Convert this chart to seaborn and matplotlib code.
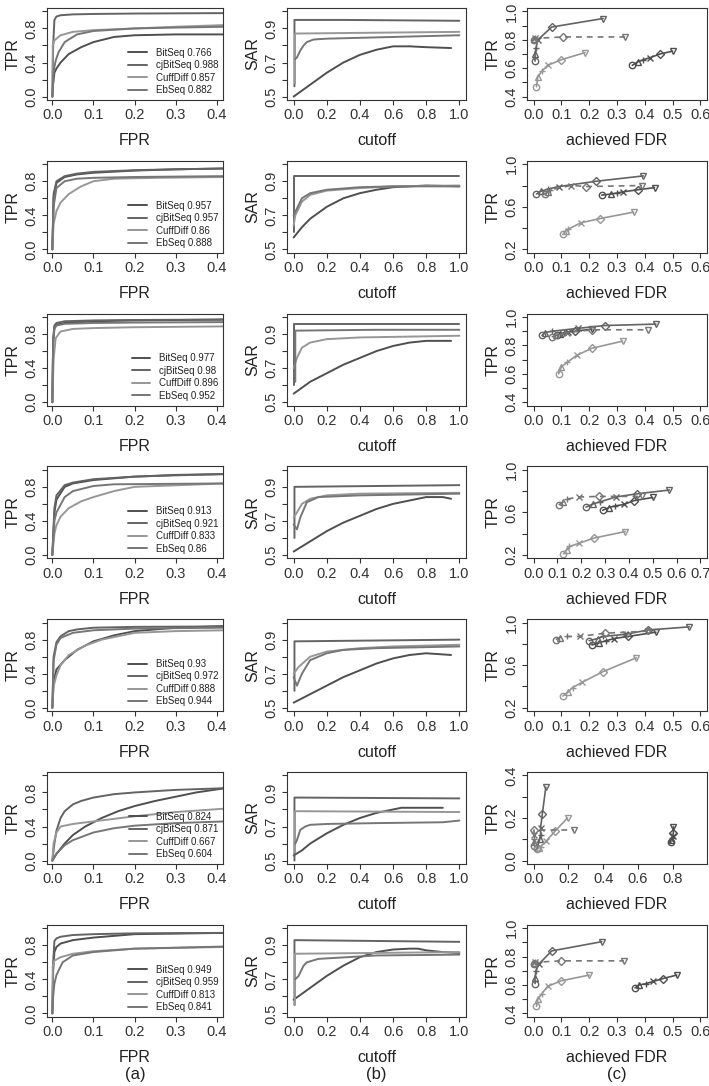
import matplotlib
matplotlib.use('Agg')
import matplotlib.pyplot as plt
import seaborn as sns
import pandas as pd
import numpy as np

# ---------------- data ----------------
methods = ['BitSeq', 'cjBitSeq', 'CuffDiff', 'EbSeq']
colors = {'BitSeq': '#4f4f4f', 'cjBitSeq': '#636363', 'CuffDiff': '#979797', 'EbSeq': '#767676'}

auc = [[0.766, 0.988, 0.857, 0.882],
       [0.957, 0.957, 0.86, 0.888],
       [0.977, 0.98, 0.896, 0.952],
       [0.913, 0.921, 0.833, 0.86],
       [0.93, 0.972, 0.888, 0.944],
       [0.824, 0.871, 0.667, 0.604],
       [0.949, 0.959, 0.813, 0.841]]

# ROC curves (FPR, TPR), column (a)
roc1 = {'BitSeq': ([0, .002, .005, .01, .02, .04, .07, .1, .15, .2, .3, .42], [0, .15, .28, .33, .40, .50, .58, .64, .70, .72, .73, .73]),
        'cjBitSeq': ([0, .002, .005, .01, .02, .05, .1, .2, .42], [0, .6, .9, .94, .955, .965, .97, .975, .98]),
        'CuffDiff': ([0, .001, .005, .02, .05, .1, .2, .3, .42], [0, .6, .66, .72, .76, .78, .80, .82, .84]),
        'EbSeq': ([0, .003, .008, .015, .03, .06, .1, .2, .3, .42], [0, .3, .42, .52, .64, .73, .77, .80, .81, .82])}
roc2 = {'BitSeq': ([0, .003, .01, .03, .06, .1, .2, .3, .42], [0, .6, .78, .85, .88, .9, .925, .94, .95]),
        'cjBitSeq': ([0, .003, .01, .03, .06, .1, .2, .3, .42], [0, .65, .8, .86, .89, .91, .93, .94, .95]),
        'CuffDiff': ([0, .003, .01, .02, .04, .07, .1, .15, .25, .42], [0, .3, .45, .55, .65, .74, .8, .83, .84, .85]),
        'EbSeq': ([0, .003, .01, .03, .06, .1, .2, .42], [0, .5, .72, .8, .83, .84, .85, .86])}
roc3 = {'BitSeq': ([0, .002, .005, .01, .03, .1, .2, .42], [0, .7, .88, .91, .93, .95, .96, .97]),
        'cjBitSeq': ([0, .002, .005, .01, .03, .1, .2, .42], [0, .75, .9, .93, .95, .96, .965, .97]),
        'CuffDiff': ([0, .003, .008, .02, .05, .1, .2, .42], [0, .5, .75, .83, .86, .87, .88, .89]),
        'EbSeq': ([0, .002, .005, .01, .03, .1, .2, .42], [0, .7, .86, .9, .92, .93, .935, .94])}
roc4 = {'BitSeq': ([0, .005, .01, .03, .05, .1, .2, .3, .42], [0, .5, .65, .8, .84, .88, .92, .94, .95]),
        'cjBitSeq': ([0, .005, .01, .03, .05, .1, .2, .3, .42], [0, .55, .7, .82, .85, .89, .92, .935, .95]),
        'CuffDiff': ([0, .005, .01, .02, .04, .07, .1, .15, .2, .42], [0, .25, .35, .45, .55, .63, .68, .75, .8, .84]),
        'EbSeq': ([0, .005, .01, .03, .05, .1, .15, .42], [0, .4, .5, .68, .75, .81, .83, .84])}
roc5 = {'BitSeq': ([0, .003, .01, .03, .06, .1, .15, .2, .3, .42], [0, .3, .45, .56, .68, .78, .85, .9, .94, .96]),
        'cjBitSeq': ([0, .003, .01, .02, .04, .06, .1, .2, .42], [0, .6, .77, .84, .9, .92, .94, .95, .955]),
        'CuffDiff': ([0, .003, .01, .02, .04, .08, .12, .2, .3, .42], [0, .25, .38, .5, .62, .73, .8, .88, .9, .91]),
        'EbSeq': ([0, .003, .01, .02, .05, .1, .2, .42], [0, .55, .74, .82, .88, .91, .93, .94])}
roc6 = {'BitSeq': ([0, .01, .03, .05, .08, .12, .16, .2, .25, .3, .35, .42], [0, .08, .2, .3, .4, .5, .58, .64, .7, .75, .8, .85]),
        'cjBitSeq': ([0, .005, .01, .02, .03, .05, .07, .1, .15, .2, .3, .42], [0, .2, .35, .5, .58, .66, .7, .74, .78, .8, .83, .85]),
        'CuffDiff': ([0, .003, .01, .02, .05, .1, .2, .3, .42], [0, .2, .33, .4, .43, .46, .52, .57, .61]),
        'EbSeq': ([0, .01, .03, .05, .1, .15, .2, .3, .42], [0, .08, .18, .24, .33, .38, .41, .44, .46])}
roc7 = {'BitSeq': ([0, .002, .005, .01, .02, .05, .1, .2, .42], [0, .5, .72, .78, .82, .86, .89, .93, .945]),
        'cjBitSeq': ([0, .002, .005, .01, .02, .05, .1, .2, .42], [0, .6, .85, .88, .9, .92, .93, .94, .945]),
        'CuffDiff': ([0, .001, .005, .02, .05, .1, .2, .42], [0, .55, .62, .66, .7, .73, .76, .78]),
        'EbSeq': ([0, .002, .005, .01, .025, .05, .1, .2, .42], [0, .2, .35, .45, .6, .68, .72, .76, .785])}

# SAR against cutoff, column (b)
sar1 = {'BitSeq': ([0, .1, .2, .3, .4, .5, .6, .7, .8, .95], [.5, .57, .64, .70, .745, .775, .795, .795, .79, .785]),
        'cjBitSeq': ([.005, .005, .3, 1.0], [.56, .95, .95, .945]),
        'CuffDiff': ([.008, .008, .5, 1.0], [.58, .87, .875, .88]),
        'EbSeq': ([.01, .02, .04, .06, .08, .12, .2, .4, .6, 1.0], [.72, .73, .77, .80, .82, .835, .84, .845, .85, .86])}
sar2 = {'BitSeq': ([0, .05, .1, .2, .3, .4, .5, .6, .8, 1.0], [.57, .63, .68, .75, .8, .83, .85, .865, .875, .87]),
        'cjBitSeq': ([.005, .005, 1.0], [.6, .93, .93]),
        'CuffDiff': ([0, .01, .05, .1, .2, .4, .6, 1.0], [.64, .7, .78, .82, .845, .86, .87, .875]),
        'EbSeq': ([0, .02, .05, .1, .2, .4, .6, 1.0], [.7, .74, .8, .83, .85, .865, .87, .87])}
sar3 = {'BitSeq': ([0, .1, .2, .3, .4, .5, .6, .7, .8, .95], [.55, .62, .67, .72, .76, .8, .83, .85, .86, .86]),
        'cjBitSeq': ([.005, .005, 1.0], [.6, .96, .96]),
        'CuffDiff': ([0, .02, .05, .1, .2, .4, 1.0], [.7, .76, .82, .85, .87, .88, .89]),
        'EbSeq': ([.01, .01, .5, 1.0], [.62, .92, .925, .925])}
sar4 = {'BitSeq': ([0, .1, .2, .3, .4, .5, .6, .7, .8, .9, .95], [.52, .58, .64, .69, .73, .77, .8, .82, .84, .84, .83]),
        'cjBitSeq': ([.005, .005, 1.0], [.6, .9, .91]),
        'CuffDiff': ([0, .02, .05, .1, .2, .4, 1.0], [.72, .75, .8, .83, .85, .86, .865]),
        'EbSeq': ([0, .02, .04, .08, .15, .4, 1.0], [.68, .65, .72, .81, .84, .85, .86])}
sar5 = {'BitSeq': ([0, .1, .2, .3, .4, .5, .6, .7, .8, .95], [.53, .58, .63, .68, .72, .76, .79, .81, .82, .81]),
        'cjBitSeq': ([.005, .005, 1.0], [.6, .89, .9]),
        'CuffDiff': ([0, .03, .1, .2, .4, .6, 1.0], [.7, .74, .8, .83, .85, .86, .87]),
        'EbSeq': ([0, .02, .05, .1, .2, .3, .5, 1.0], [.68, .63, .7, .78, .82, .84, .85, .86])}
sar6 = {'BitSeq': ([0, .05, .1, .2, .3, .4, .5, .6, .65, .8, .9], [.53, .56, .6, .66, .71, .75, .78, .8, .81, .81, .81]),
        'cjBitSeq': ([.005, .005, 1.0], [.5, .87, .865]),
        'CuffDiff': ([.008, .008, 1.0], [.55, .79, .785]),
        'EbSeq': ([.01, .02, .04, .07, .1, .2, .5, .9, 1.0], [.6, .62, .68, .7, .71, .715, .72, .725, .735])}
sar7 = {'BitSeq': ([0, .1, .2, .3, .4, .5, .6, .7, .75, .8, .9, 1.0], [.58, .65, .72, .78, .83, .86, .875, .88, .88, .87, .86, .855]),
        'cjBitSeq': ([.005, .005, 1.0], [.55, .93, .92]),
        'CuffDiff': ([.008, .008, 1.0], [.55, .85, .86]),
        'EbSeq': ([.01, .03, .06, .08, .15, .5, 1.0], [.7, .72, .78, .8, .82, .84, .845])}

# TPR against achieved FDR at six thresholds, column (c)
fdr1 = {'BitSeq': ([.355, .375, .395, .42, .455, .5], [.62, .645, .66, .675, .70, .72]),
        'cjBitSeq': ([.005, .005, .008, .015, .065, .25], [.65, .70, .74, .80, .89, .95]),
        'CuffDiff': ([.01, .015, .03, .05, .1, .185], [.47, .54, .58, .62, .66, .71]),
        'EbSeq': ([0, 0, .003, .005, .105, .33], [.80, .805, .81, .81, .82, .82])}
fdr2 = {'BitSeq': ([.245, .28, .3, .32, .375, .435], [.71, .72, .73, .74, .76, .78]),
        'cjBitSeq': ([.01, .025, .05, .09, .225, .395], [.72, .745, .765, .79, .84, .89]),
        'CuffDiff': ([.105, .115, .125, .17, .24, .36], [.34, .37, .39, .45, .49, .55]),
        'EbSeq': ([.04, .05, .06, .135, .19, .39], [.72, .74, .76, .80, .79, .80])}
fdr3 = {'BitSeq': ([.085, .095, .11, .125, .15, .21], [.87, .88, .89, .895, .90, .915]),
        'cjBitSeq': ([.03, .04, .065, .16, .255, .44], [.87, .89, .90, .92, .94, .95]),
        'CuffDiff': ([.09, .1, .12, .155, .21, .32], [.60, .65, .68, .73, .78, .83]),
        'EbSeq': ([.065, .08, .1, .12, .21, .41], [.86, .87, .88, .89, .91, .91])}
fdr4 = {'BitSeq': ([.29, .315, .34, .38, .42, .5], [.62, .645, .66, .675, .71, .74]),
        'cjBitSeq': ([.22, .25, .28, .345, .435, .57], [.65, .68, .70, .745, .775, .81]),
        'CuffDiff': ([.125, .14, .15, .19, .255, .385], [.21, .25, .28, .31, .36, .42]),
        'EbSeq': ([.105, .125, .14, .19, .275, .455], [.67, .70, .725, .745, .75, .75])}
fdr5 = {'BitSeq': ([.21, .235, .26, .29, .34, .44], [.79, .81, .83, .85, .87, .91]),
        'cjBitSeq': ([.2, .23, .25, .33, .41, .56], [.83, .85, .87, .89, .93, .96]),
        'CuffDiff': ([.105, .125, .14, .175, .25, .37], [.31, .35, .39, .44, .54, .67]),
        'EbSeq': ([.08, .095, .12, .165, .255, .41], [.84, .86, .87, .87, .90, .92])}
fdr6 = {'BitSeq': ([.79, .79, .795, .8, .805, .805], [.085, .095, .105, .115, .13, .16]),
        'cjBitSeq': ([.02, .035, .04, .04, .05, .07], [.06, .10, .12, .155, .22, .345]),
        'CuffDiff': ([.02, .03, .04, .07, .125, .195], [.055, .06, .065, .09, .14, .20]),
        'EbSeq': ([0, 0, 0, 0, 0, .235], [.07, .085, .10, .12, .145, .145])}
fdr7 = {'BitSeq': ([.365, .38, .405, .43, .465, .515], [.58, .60, .61, .625, .645, .67]),
        'cjBitSeq': ([.005, .005, .008, .02, .065, .245], [.61, .65, .70, .75, .84, .905]),
        'CuffDiff': ([.01, .015, .03, .05, .1, .2], [.45, .50, .54, .59, .63, .67]),
        'EbSeq': ([0, 0, .003, .005, .1, .325], [.75, .755, .76, .76, .77, .77])}

roc_rows = [roc1, roc2, roc3, roc4, roc5, roc6, roc7]
sar_rows = [sar1, sar2, sar3, sar4, sar5, sar6, sar7]
fdr_rows = [fdr1, fdr2, fdr3, fdr4, fdr5, fdr6, fdr7]

threshold_markers = ['o', '^', '+', 'x', 'D', 'v']

# axis setup of column (c) per row
fdr_xmax = [0.6, 0.6, 0.6, 0.7, 0.6, 0.96, 0.6]
fdr_xticks_max = [0.6, 0.6, 0.6, 0.7, 0.6, 0.8, 0.6]
fdr_xstep = [0.1, 0.1, 0.1, 0.1, 0.1, 0.2, 0.1]
fdr_ylo = [0.4, 0.2, 0.4, 0.2, 0.2, 0.0, 0.4]
fdr_yhi = [1.0, 1.0, 1.0, 1.0, 1.0, 0.4, 1.0]
fdr_ystep = [0.1, 0.2, 0.1, 0.2, 0.2, 0.1, 0.1]

# ---------------- style ----------------
sns.set_style('ticks')
plt.rcParams['font.family'] = ['Liberation Sans', 'DejaVu Sans']
plt.rcParams['axes.linewidth'] = 0.8
plt.rcParams['axes.edgecolor'] = '#333333'
plt.rcParams['xtick.color'] = '#333333'
plt.rcParams['ytick.color'] = '#333333'
plt.rcParams['text.color'] = '#222222'
plt.rcParams['axes.labelcolor'] = '#222222'

W, H = 709, 1086
fig = plt.figure(figsize=(W / 100, H / 100), dpi=100)

col_x = [(47, 223), (287, 466), (527, 707)]
row_top = [8 + i * 152.8 for i in range(7)]
box_h = 92


def add_ax(c, r):
    x0, x1 = col_x[c]
    top = row_top[r]
    return fig.add_axes([x0 / W, 1 - (top + box_h) / H, (x1 - x0) / W, box_h / H])


def r_lim(lo, hi):
    # R style 4% padding
    d = (hi - lo) * 0.04
    return lo - d, hi + d


def style_axis(ax, xticks, yticks, xlabel, ylabel):
    ax.set_xticks(xticks)
    ax.set_xticklabels([f'{v:.1f}' for v in xticks], fontsize=10.5)
    ax.set_yticks(yticks)
    # R drops every other label when they would overlap
    labs = [f'{v:.1f}' if i % 2 == 0 else '' for i, v in enumerate(yticks)]
    ax.set_yticklabels(labs, fontsize=10.5, rotation=90, va='center')
    ax.tick_params(length=3.5, width=0.8, pad=2.5)
    ax.set_xlabel(xlabel, fontsize=11.5, labelpad=8)
    ax.set_ylabel(ylabel, fontsize=11.5, labelpad=3)
    for s in ax.spines.values():
        s.set_visible(True)


def curves_frame(curves, aucs=None):
    recs = []
    for k, m in enumerate(methods):
        xs, ys = curves[m]
        lab = f'{m} {aucs[k]:g}' if aucs is not None else m
        for x, y in zip(xs, ys):
            recs.append((lab, m, x, y))
    return pd.DataFrame(recs, columns=['label', 'method', 'x', 'y'])


for r in range(7):
    # (a) ROC
    ax = add_ax(0, r)
    df = curves_frame(roc_rows[r], auc[r])
    labels = list(dict.fromkeys(df['label']))
    pal = {lab: colors[m] for lab, m in zip(labels, methods)}
    sns.lineplot(data=df, x='x', y='y', hue='label', hue_order=labels, palette=pal,
                 sort=False, estimator=None, lw=1.4, ax=ax)
    sns.move_legend(ax, 'lower right', frameon=False, title=None, fontsize=7,
                    handlelength=1.9, handletextpad=0.9, labelspacing=0.25,
                    borderaxespad=0.3, borderpad=0.2)
    ax.set_xlim(-0.013, 0.415)
    ax.set_ylim(*r_lim(0, 1))
    style_axis(ax, [0, 0.1, 0.2, 0.3, 0.4], [0, 0.2, 0.4, 0.6, 0.8, 1.0], 'FPR', 'TPR')

    # (b) SAR
    ax = add_ax(1, r)
    df = curves_frame(sar_rows[r])
    sns.lineplot(data=df, x='x', y='y', hue='method', hue_order=methods, palette=colors,
                 sort=False, estimator=None, lw=1.4, ax=ax, legend=False)
    ax.set_xlim(*r_lim(0, 1))
    ax.set_ylim(*r_lim(0.5, 1.0))
    style_axis(ax, [0, 0.2, 0.4, 0.6, 0.8, 1.0], [0.5, 0.6, 0.7, 0.8, 0.9, 1.0], 'cutoff', 'SAR')

    # (c) TPR vs achieved FDR
    ax = add_ax(2, r)
    for m in methods:
        xs, ys = fdr_rows[r][m]
        ls = (0, (3.5, 3)) if m == 'EbSeq' else '-'
        sns.lineplot(x=xs, y=ys, color=colors[m], lw=1.2, linestyle=ls,
                     sort=False, estimator=None, ax=ax)
        for mk, x, y in zip(threshold_markers, xs, ys):
            ms = 3.6 if mk == 'D' else 4.6
            ax.plot([x], [y], ls='none', marker=mk, ms=ms, mfc='none',
                    mec=colors[m], mew=1.0)
    ax.set_xlim(*r_lim(0, fdr_xmax[r]))
    ax.set_ylim(*r_lim(fdr_ylo[r], fdr_yhi[r]))
    nx = int(round(fdr_xticks_max[r] / fdr_xstep[r]))
    xt = [round(i * fdr_xstep[r], 2) for i in range(nx + 1)]
    ny = int(round((fdr_yhi[r] - fdr_ylo[r]) / fdr_ystep[r]))
    yt = [round(fdr_ylo[r] + i * fdr_ystep[r], 2) for i in range(ny + 1)]
    style_axis(ax, xt, yt, 'achieved FDR', 'TPR')

for c, lab in enumerate(['(a)', '(b)', '(c)']):
    x0, x1 = col_x[c]
    fig.text((x0 + x1) / 2 / W, 1 - 1075 / H, lab, ha='center', va='center', fontsize=12)

fig.savefig('out.png', dpi=100)
